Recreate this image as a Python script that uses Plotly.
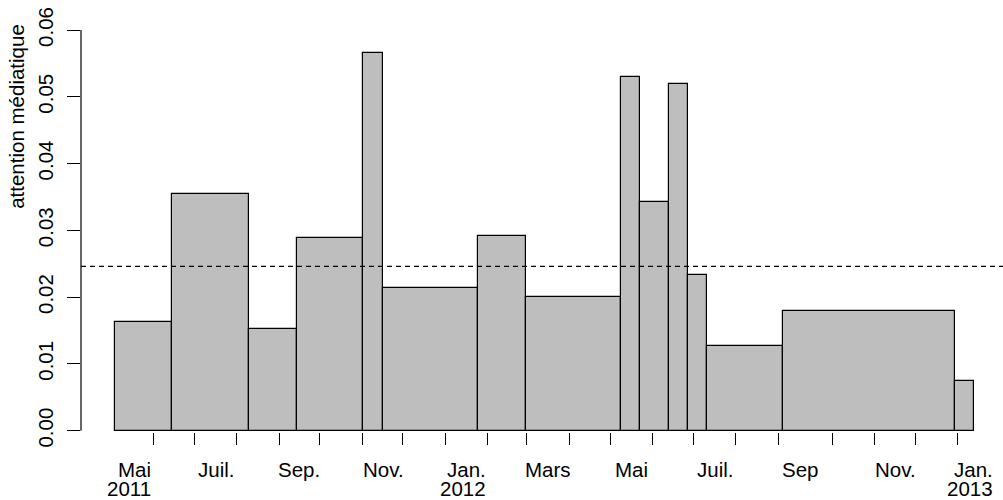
import plotly.graph_objects as go

# x axis unit: months since 1 Jan 2011 (4.0 = 1 May 2011)
bar_edges = [3.084, 4.455, 6.289, 7.431, 9.024, 9.488, 11.761, 12.909,
             15.182, 15.644, 16.330, 16.792, 17.246, 19.072, 23.179, 23.641]
bar_heights = [0.0163, 0.0355, 0.0153, 0.0288, 0.0565, 0.0214, 0.0291, 0.0200,
               0.0530, 0.0342, 0.0519, 0.0233, 0.0127, 0.0179, 0.0074]
mean_level = 0.0246

tick_vals = [4.000, 4.981, 5.995, 7.007, 7.981, 8.993, 9.967, 10.978, 11.990, 12.933,
             13.952, 14.926, 15.938, 16.919, 17.933, 18.945, 20.244, 21.258, 22.239, 23.244]
label_months = ["Mai", "Juil.", "Sep.", "Nov.", "Jan.", "Mars", "Mai", "Juil.", "Sep", "Nov.", "Jan."]
label_years = ["2011", "", "", "", "2012", "", "", "", "", "", "2013"]
label_x = [3.993, 5.978, 8.036, 10.045, 12.007, 14.041, 15.883, 17.916, 19.950, 22.294, 24.136]

y_ticks = [0.00, 0.01, 0.02, 0.03, 0.04, 0.05, 0.06]

FONT = "Liberation Sans, Arial, Helvetica, sans-serif"
FS = 20.5

centers = [(a + b) / 2 for a, b in zip(bar_edges[:-1], bar_edges[1:])]
widths = [b - a for a, b in zip(bar_edges[:-1], bar_edges[1:])]

fig = go.Figure()
fig.add_trace(go.Bar(
    x=centers, y=bar_heights, width=widths,
    marker=dict(color="#bebebe", line=dict(color="black", width=1.2)),
    showlegend=False,
))

# dashed reference line across the plot region
fig.add_shape(type="line", xref="paper", yref="y", x0=0, x1=1,
              y0=mean_level, y1=mean_level,
              line=dict(color="black", width=1.2, dash="5px,4px"))
# y axis line from 0 to 0.06
fig.add_shape(type="line", xref="paper", yref="y", x0=0, x1=0, y0=0, y1=0.06,
              line=dict(color="black", width=1.2))

# x labels: month line + year line, right aligned like the original
for m, yr, xv in zip(label_months, label_years, label_x):
    fig.add_annotation(x=xv, y=-0.094, xref="x", yref="paper", text=m,
                       showarrow=False, xanchor="right", yanchor="middle",
                       font=dict(family=FONT, size=FS, color="black"))
    if yr:
        fig.add_annotation(x=xv, y=-0.140, xref="x", yref="paper", text=yr,
                           showarrow=False, xanchor="right", yanchor="middle",
                           font=dict(family=FONT, size=FS, color="black"))

fig.add_annotation(x=-0.0694, y=0.784, xref="paper", yref="paper",
                   text="attention médiatique", textangle=-90, showarrow=False,
                   xanchor="center", yanchor="middle",
                   font=dict(family=FONT, size=FS, color="black"))

fig.update_xaxes(range=[2.270, 24.327], tickvals=tick_vals, showticklabels=False,
                 ticks="outside", ticklen=12, tickwidth=1.2, tickcolor="black",
                 showgrid=False, zeroline=False, showline=False)
fig.update_yaxes(range=[-0.0002, 0.06], tickvals=y_ticks,
                 ticktext=[f"{v:.2f}" for v in y_ticks], tickangle=-90,
                 ticks="outside", ticklen=13, tickwidth=1.2, tickcolor="black",
                 ticklabelstandoff=6,
                 tickfont=dict(family=FONT, size=FS, color="black"),
                 showgrid=False, zeroline=False, showline=False)

fig.update_layout(
    width=1003, height=500,
    margin=dict(l=81, r=0, t=30, b=68),
    plot_bgcolor="white", paper_bgcolor="white",
    bargap=0,
)

fig.write_html("out.html", config={"displayModeBar": False},
               post_script="document.body.style.margin='0';")
